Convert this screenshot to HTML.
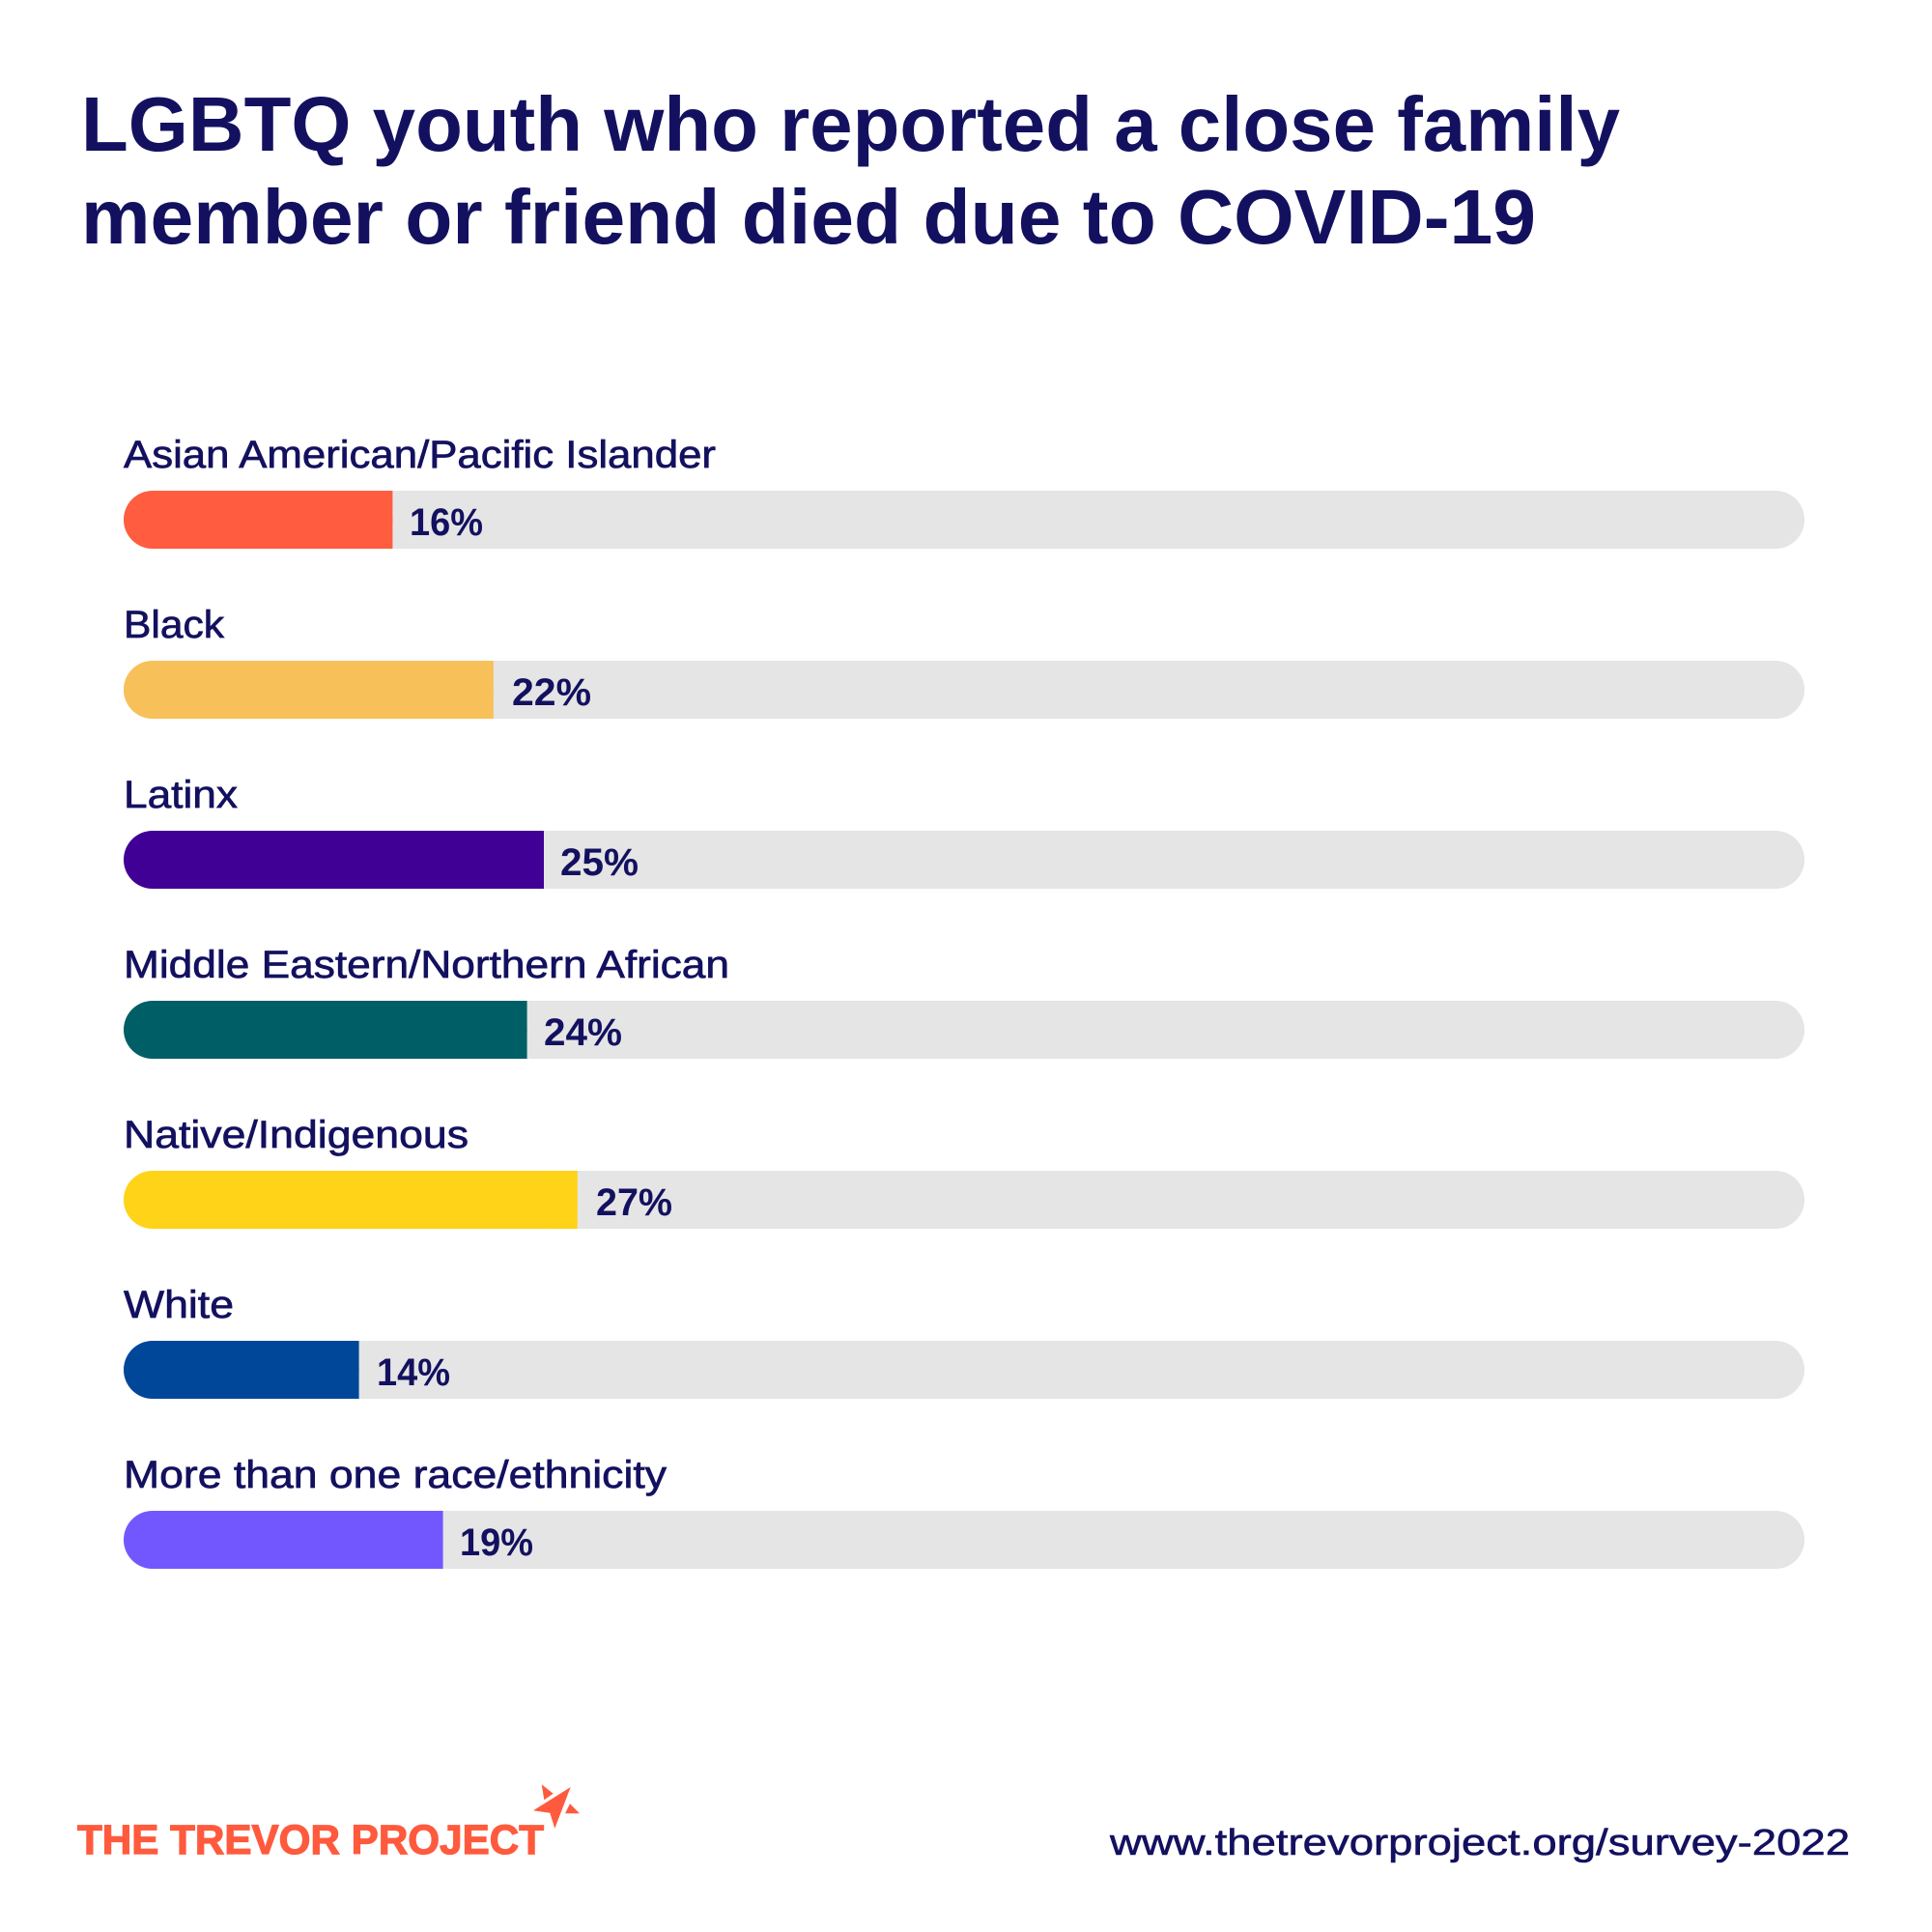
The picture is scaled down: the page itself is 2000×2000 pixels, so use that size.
<!DOCTYPE html>
<html>
<head>
<meta charset="utf-8">
<style>
  html, body { margin:0; padding:0; background:#ffffff; }
  svg { display:block; }
  .t { font-family:"Liberation Sans", Arial, sans-serif; fill:#13115f; }
</style>
</head>
<body>
<svg width="2000" height="2000" viewBox="0 0 2000 2000" xmlns="http://www.w3.org/2000/svg">
  <rect width="2000" height="2000" fill="#ffffff"/>

  <!-- Title -->
  <text class="t" x="84" y="156" font-size="80" font-weight="bold" textLength="1593" lengthAdjust="spacingAndGlyphs">LGBTQ youth who reported a close family</text>
  <text class="t" x="84" y="252" font-size="80" font-weight="bold" textLength="1506" lengthAdjust="spacingAndGlyphs">member or friend died due to COVID-19</text>

  <!-- Bar 1 -->
  <text class="t" x="128" y="484" font-size="40" stroke="#13115f" stroke-width="0.7" textLength="613" lengthAdjust="spacingAndGlyphs">Asian American/Pacific Islander</text>
  <rect x="128" y="508" width="1740" height="60" rx="30" fill="#e5e5e5"/>
  <rect x="128" y="508" width="278.4" height="60" rx="30" fill="#ff5c40"/>
  <rect x="376.4" y="508" width="30" height="60" fill="#ff5c40"/>
  <text class="t" x="424" y="554" font-size="40" font-weight="bold" textLength="76" lengthAdjust="spacingAndGlyphs">16%</text>

  <!-- Bar 2 -->
  <text class="t" x="128" y="660" font-size="40" stroke="#13115f" stroke-width="0.7" textLength="104" lengthAdjust="spacingAndGlyphs">Black</text>
  <rect x="128" y="684" width="1740" height="60" rx="30" fill="#e5e5e5"/>
  <rect x="128" y="684" width="382.8" height="60" rx="30" fill="#f8c058"/>
  <rect x="480.8" y="684" width="30" height="60" fill="#f8c058"/>
  <text class="t" x="530" y="730" font-size="40" font-weight="bold" textLength="82" lengthAdjust="spacingAndGlyphs">22%</text>

  <!-- Bar 3 -->
  <text class="t" x="128" y="836" font-size="40" stroke="#13115f" stroke-width="0.7" textLength="118" lengthAdjust="spacingAndGlyphs">Latinx</text>
  <rect x="128" y="860" width="1740" height="60" rx="30" fill="#e5e5e5"/>
  <rect x="128" y="860" width="435" height="60" rx="30" fill="#400095"/>
  <rect x="533" y="860" width="30" height="60" fill="#400095"/>
  <text class="t" x="580" y="906" font-size="40" font-weight="bold" textLength="81" lengthAdjust="spacingAndGlyphs">25%</text>

  <!-- Bar 4 -->
  <text class="t" x="128" y="1012" font-size="40" stroke="#13115f" stroke-width="0.7" textLength="627" lengthAdjust="spacingAndGlyphs">Middle Eastern/Northern African</text>
  <rect x="128" y="1036" width="1740" height="60" rx="30" fill="#e5e5e5"/>
  <rect x="128" y="1036" width="417.6" height="60" rx="30" fill="#005f66"/>
  <rect x="515.6" y="1036" width="30" height="60" fill="#005f66"/>
  <text class="t" x="563" y="1082" font-size="40" font-weight="bold" textLength="81" lengthAdjust="spacingAndGlyphs">24%</text>

  <!-- Bar 5 -->
  <text class="t" x="128" y="1188" font-size="40" stroke="#13115f" stroke-width="0.7" textLength="357" lengthAdjust="spacingAndGlyphs">Native/Indigenous</text>
  <rect x="128" y="1212" width="1740" height="60" rx="30" fill="#e5e5e5"/>
  <rect x="128" y="1212" width="469.8" height="60" rx="30" fill="#ffd317"/>
  <rect x="567.8" y="1212" width="30" height="60" fill="#ffd317"/>
  <text class="t" x="617" y="1258" font-size="40" font-weight="bold" textLength="79" lengthAdjust="spacingAndGlyphs">27%</text>

  <!-- Bar 6 -->
  <text class="t" x="128" y="1364" font-size="40" stroke="#13115f" stroke-width="0.7" textLength="114" lengthAdjust="spacingAndGlyphs">White</text>
  <rect x="128" y="1388" width="1740" height="60" rx="30" fill="#e5e5e5"/>
  <rect x="128" y="1388" width="243.6" height="60" rx="30" fill="#004799"/>
  <rect x="341.6" y="1388" width="30" height="60" fill="#004799"/>
  <text class="t" x="390" y="1434" font-size="40" font-weight="bold" textLength="76" lengthAdjust="spacingAndGlyphs">14%</text>

  <!-- Bar 7 -->
  <text class="t" x="128" y="1540" font-size="40" stroke="#13115f" stroke-width="0.7" textLength="562" lengthAdjust="spacingAndGlyphs">More than one race/ethnicity</text>
  <rect x="128" y="1564" width="1740" height="60" rx="30" fill="#e5e5e5"/>
  <rect x="128" y="1564" width="330.6" height="60" rx="30" fill="#7257ff"/>
  <rect x="428.6" y="1564" width="30" height="60" fill="#7257ff"/>
  <text class="t" x="476" y="1610" font-size="40" font-weight="bold" textLength="76" lengthAdjust="spacingAndGlyphs">19%</text>

  <!-- Footer logo -->
  <text x="80" y="1919" font-family="'Liberation Sans', Arial, sans-serif" font-size="43" font-weight="bold" fill="#ff5a3d" stroke="#ff5a3d" stroke-width="1.2" textLength="483" lengthAdjust="spacingAndGlyphs">THE TREVOR PROJECT</text>
  <polygon points="590.7,1850 552,1874.3 569.3,1876.7 574.3,1892.7" fill="#ff5a3d"/>
  <polygon points="560.7,1847.3 572.7,1856.7 563.3,1863.3" fill="#ff5a3d"/>
  <polygon points="590,1867.3 600,1877.3 585,1877.3" fill="#ff5a3d"/>

  <!-- URL -->
  <text class="t" x="1149" y="1920" font-size="38" stroke="#13115f" stroke-width="0.6" textLength="766" lengthAdjust="spacingAndGlyphs">www.thetrevorproject.org/survey-2022</text>
</svg>
</body>
</html>
